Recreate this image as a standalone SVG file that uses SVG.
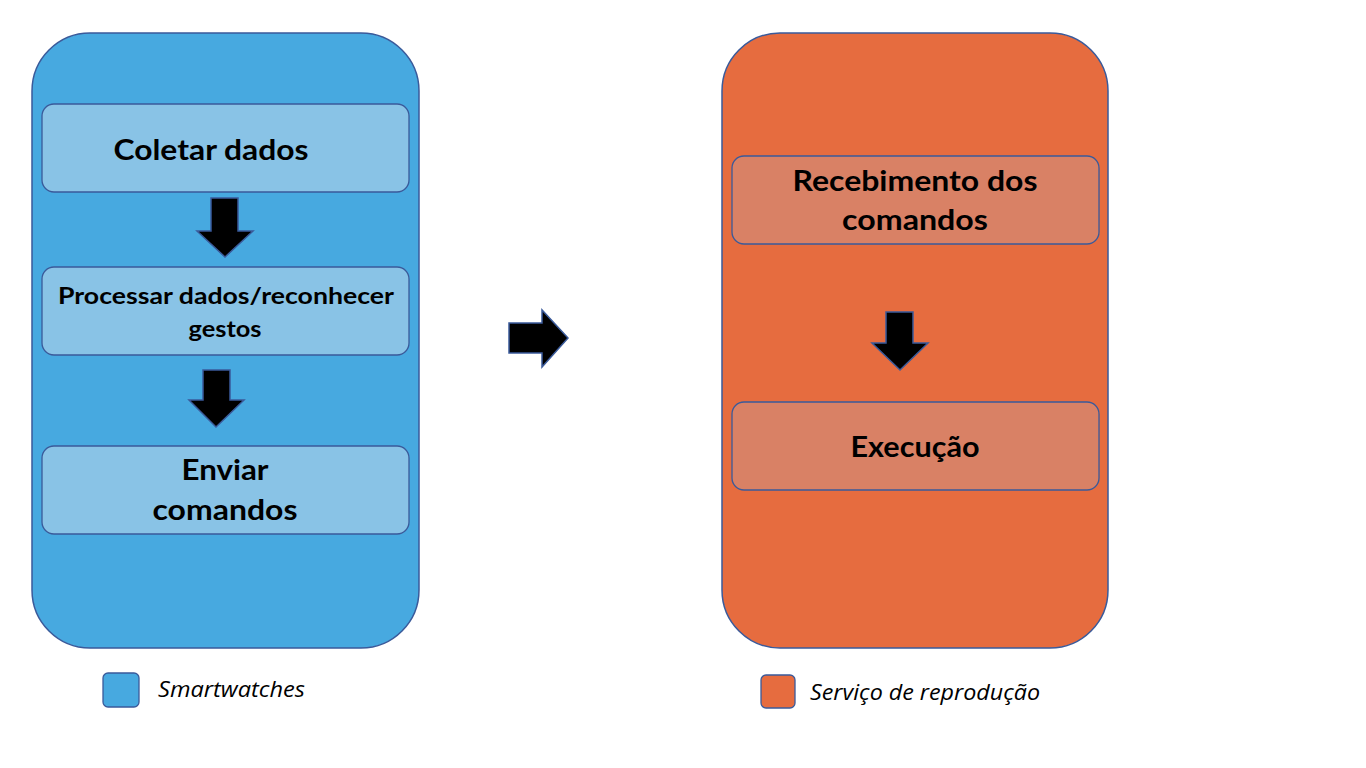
<svg xmlns="http://www.w3.org/2000/svg" width="1366" height="768" viewBox="0 0 1366 768">
<style>
.big{stroke:#3A5A9A;stroke-width:1.5}
.inner{stroke:#3A5A9A;stroke-width:1.3}
.arrow{fill:#000;stroke:#3A5A9A;stroke-width:1.5;stroke-linejoin:miter}
.t{font-family:Lato,"Open Sans","Liberation Sans",sans-serif;font-weight:bold;fill:#000;text-anchor:middle}
.leg{font-family:"Open Sans","Liberation Sans",sans-serif;font-style:italic;fill:#000;font-size:21px}
</style>
<rect width="1366" height="768" fill="#fff"/>
<g id="smartwatches">
<rect class="big" x="32" y="33" width="387" height="615" rx="58" ry="58" fill="#47A9E0"/>
</g>
<g id="servico">
<rect class="big" x="722" y="33" width="386" height="615" rx="58" ry="58" fill="#E66C3F"/>
</g>
<g id="coletar">
<rect class="inner" x="42" y="104" width="367" height="88" rx="12" fill="#89C3E6"/>
<text class="t" x="211" y="160" font-size="28" textLength="195" lengthAdjust="spacingAndGlyphs">Coletar dados</text>
</g>
<g id="processar">
<rect class="inner" x="42" y="267" width="367" height="88" rx="12" fill="#89C3E6"/>
<text class="t" x="226" y="304" font-size="22" textLength="336" lengthAdjust="spacingAndGlyphs">Processar dados/reconhecer</text>
<text class="t" x="225" y="337" font-size="22" textLength="73" lengthAdjust="spacingAndGlyphs">gestos</text>
</g>
<g id="enviar">
<rect class="inner" x="42" y="446" width="367" height="88" rx="12" fill="#89C3E6"/>
<text class="t" x="225" y="480" font-size="28" textLength="87" lengthAdjust="spacingAndGlyphs">Enviar</text>
<text class="t" x="225" y="520" font-size="28" textLength="145" lengthAdjust="spacingAndGlyphs">comandos</text>
</g>
<g id="recebimento">
<rect class="inner" x="732" y="156" width="367" height="88" rx="12" fill="#D98165"/>
<text class="t" x="915" y="191" font-size="28" textLength="245" lengthAdjust="spacingAndGlyphs">Recebimento dos</text>
<text class="t" x="915" y="230" font-size="28" textLength="146" lengthAdjust="spacingAndGlyphs">comandos</text>
</g>
<g id="execucao">
<rect class="inner" x="732" y="402" width="367" height="88" rx="12" fill="#D98165"/>
<text class="t" x="915" y="457" font-size="28" textLength="129" lengthAdjust="spacingAndGlyphs">Execução</text>
</g>
<g id="connectors">
<polygon class="arrow" points="211,198 238,198 238,231 253,231 225,257 197,231 211,231"/>
<polygon class="arrow" points="203,370 230,370 230,400 244,400 216,427 189,400 203,400"/>
<polygon class="arrow" points="509,323 542,323 542,310 568,338 542,367 542,353 509,353"/>
<polygon class="arrow" points="886,312 913,312 913,343 928,343 900,370 872,343 886,343"/>
</g>
<g id="legend">
<rect x="103" y="673" width="36" height="34" rx="5" fill="#47A9E0" stroke="#3A5A9A" stroke-width="1.3"/>
<text class="leg" x="158" y="697" textLength="147" lengthAdjust="spacingAndGlyphs">Smartwatches</text>
<rect x="761" y="675" width="34" height="33" rx="5" fill="#E66C3F" stroke="#3A5A9A" stroke-width="1.3"/>
<text class="leg" x="810" y="700" textLength="230" lengthAdjust="spacingAndGlyphs">Serviço de reprodução</text>
</g>
</svg>
